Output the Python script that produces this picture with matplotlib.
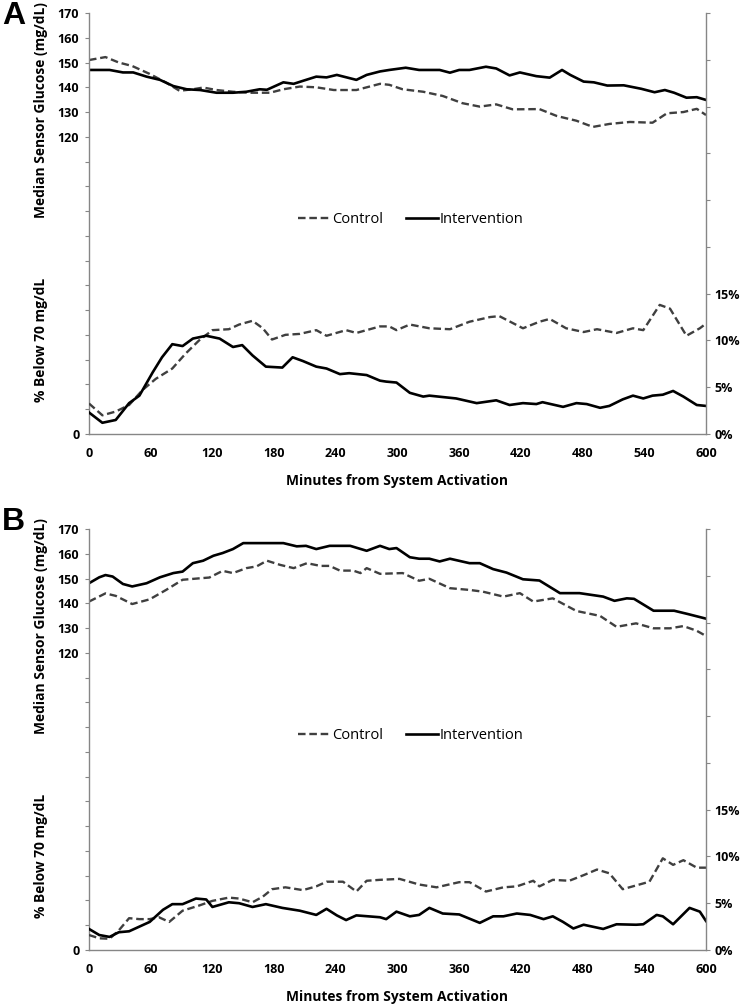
import matplotlib
matplotlib.use('Agg')
import matplotlib.pyplot as plt
from matplotlib.ticker import FixedLocator, FuncFormatter

plt.rcParams['font.family'] = ['Open Sans', 'DejaVu Sans']

# Panel A - median sensor glucose
a_ctrl_glu_min = [0, 16, 29, 42, 59, 75, 88, 101, 111, 124, 140, 156, 176, 189, 205, 221, 238, 260, 283,
                  292, 305, 325, 344, 363, 380, 396, 412, 438, 455, 474, 490, 506, 526, 548, 562, 578, 591, 600]
a_ctrl_glu = [151, 152.2, 150, 148.6, 145.4, 141.9, 138.6, 139.2, 139.9, 138.9, 138.2, 137.8, 137.8, 139.2, 140.3,
              140, 138.9, 138.9, 141.4, 141, 139.2, 138.2, 136.5, 133.6, 132.2, 133.1, 131.1, 131.2, 128.4, 126.5,
              124, 125.2, 126, 125.7, 129.5, 130, 131.3, 128.8]
a_int_glu_min = [0, 20, 33, 43, 56, 69, 82, 95, 108, 124, 140, 153, 166, 173, 189, 199, 208, 221, 231, 241, 260,
                 270, 283, 292, 308, 321, 341, 351, 360, 370, 386, 396, 409, 419, 435, 448, 460, 468, 481, 491, 504,
                 520, 537, 550, 560, 569, 581, 591, 600]
a_int_glu = [147, 147, 146, 146, 144.3, 143, 140.5, 139.2, 138.9, 137.8, 137.8, 138.2, 139.2, 139, 142, 141.4,
             142.6, 144.3, 144, 145, 143, 145, 146.4, 147, 147.9, 147, 147, 145.9, 147, 147, 148.3, 147.6, 144.8,
             146, 144.5, 143.9, 147, 145, 142.3, 142, 140.7, 140.8, 139.4, 138, 138.9, 137.8, 135.8, 136, 134.9]

# Panel A - % below 70 mg/dL
a_ctrl_pct_min = [0, 13, 26, 39, 52, 65, 81, 94, 107, 120, 136, 146, 159, 169, 178, 191, 205, 221, 231, 250, 260,
                  283, 292, 299, 312, 331, 351, 370, 390, 399, 422, 438, 448, 464, 481, 494, 513, 529, 539, 555,
                  565, 581, 594, 600]
a_ctrl_pct = [3.26, 2.0, 2.4, 3.1, 4.7, 5.9, 7.0, 8.6, 10.0, 11.1, 11.2, 11.7, 12.1, 11.3, 10.1, 10.6, 10.7, 11.1,
              10.5, 11.1, 10.8, 11.5, 11.5, 11.1, 11.7, 11.3, 11.2, 12.0, 12.5, 12.6, 11.3, 12.0, 12.3, 11.3, 10.9,
              11.2, 10.8, 11.3, 11.1, 13.8, 13.4, 10.5, 11.3, 11.8]
a_int_pct_min = [0, 13, 26, 39, 49, 62, 71, 81, 91, 101, 114, 127, 140, 149, 159, 172, 188, 198, 208, 221, 231,
                 244, 253, 270, 283, 289, 299, 312, 325, 331, 357, 377, 396, 409, 422, 435, 441, 461, 474, 484, 497,
                 506, 519, 529, 539, 548, 558, 568, 578, 591, 600]
a_int_pct = [2.3, 1.2, 1.5, 3.3, 4.1, 6.6, 8.2, 9.6, 9.4, 10.2, 10.5, 10.2, 9.3, 9.5, 8.4, 7.2, 7.1, 8.2, 7.8, 7.2,
             7.0, 6.4, 6.5, 6.3, 5.7, 5.6, 5.5, 4.4, 4.0, 4.1, 3.8, 3.3, 3.6, 3.1, 3.3, 3.2, 3.4, 2.9, 3.3, 3.2,
             2.8, 3.0, 3.7, 4.1, 3.8, 4.1, 4.2, 4.6, 4.0, 3.1, 3.0]

# Panel B - median sensor glucose
b_ctrl_glu_min = [0, 16, 26, 42, 59, 75, 91, 108, 117, 130, 140, 153, 163, 173, 186, 199, 212, 225, 234, 244, 257,
                  264, 270, 283, 305, 321, 331, 351, 370, 383, 403, 419, 432, 451, 474, 497, 513, 532, 549, 565,
                  578, 591, 600]
b_ctrl_glu = [140.7, 144, 143, 139.7, 141.6, 145.4, 149.5, 150.1, 150.4, 153.1, 152.2, 154.2, 154.9, 157.2, 155.5,
              154.2, 156.2, 155.1, 155.1, 153.2, 153.2, 152.2, 154.2, 151.9, 152.2, 149.1, 149.9, 146.1, 145.4,
              144.7, 142.7, 144.1, 140.7, 142, 136.9, 134.9, 130.5, 131.9, 129.9, 129.9, 130.8, 128.9, 126.8]
b_int_glu_min = [0, 10, 16, 23, 33, 42, 56, 69, 82, 91, 101, 111, 121, 130, 140, 150, 166, 189, 202, 211, 221, 234,
                 254, 270, 283, 292, 299, 312, 321, 331, 341, 351, 370, 380, 393, 406, 422, 438, 458, 477, 500, 511,
                 523, 530, 549, 569, 582, 600]
b_int_glu = [148.1, 150.5, 151.4, 150.8, 147.8, 146.8, 148.1, 150.5, 152.2, 152.8, 156.2, 157.2, 159.2, 160.3,
             161.9, 164.3, 164.3, 164.3, 163, 163.2, 161.9, 163.2, 163.2, 161.2, 163.2, 161.9, 162.3, 158.6, 158,
             158, 156.9, 158, 156.2, 156.2, 153.8, 152.4, 149.7, 149.2, 144.1, 144.1, 142.7, 141, 142, 141.8, 137,
             137, 135.7, 133.8]

# Panel B - % below 70 mg/dL
b_ctrl_pct_min = [0, 10, 20, 29, 39, 49, 59, 68, 78, 91, 107, 120, 136, 146, 159, 169, 178, 191, 208, 221, 231,
                  247, 260, 270, 283, 302, 321, 338, 360, 370, 386, 403, 416, 432, 438, 451, 467, 481, 494, 506,
                  519, 532, 545, 558, 568, 578, 591, 600]
b_ctrl_pct = [1.6, 1.25, 1.2, 2.1, 3.4, 3.3, 3.3, 3.5, 3.0, 4.2, 4.75, 5.25, 5.6, 5.5, 5.1, 5.7, 6.5, 6.7, 6.4,
              6.8, 7.3, 7.3, 6.25, 7.4, 7.5, 7.6, 7.0, 6.7, 7.25, 7.25, 6.25, 6.7, 6.8, 7.4, 6.8, 7.5, 7.4, 8.0,
              8.6, 8.2, 6.5, 6.9, 7.3, 9.8, 9.1, 9.6, 8.8, 8.8]
b_int_pct_min = [0, 10, 20, 29, 39, 49, 59, 72, 81, 91, 104, 114, 120, 136, 146, 159, 172, 188, 205, 221, 231, 241,
                 250, 260, 283, 289, 299, 312, 321, 331, 344, 360, 380, 393, 403, 416, 429, 442, 451, 461, 471, 481,
                 500, 513, 532, 539, 552, 558, 568, 584, 594, 600]
b_int_pct = [2.25, 1.6, 1.4, 1.9, 2.0, 2.5, 3.0, 4.3, 4.9, 4.9, 5.5, 5.4, 4.6, 5.1, 5.0, 4.6, 4.9, 4.5, 4.2, 3.75,
             4.4, 3.7, 3.2, 3.7, 3.5, 3.3, 4.1, 3.6, 3.75, 4.5, 3.9, 3.8, 2.9, 3.6, 3.6, 3.9, 3.75, 3.3, 3.6, 3.0,
             2.3, 2.7, 2.25, 2.75, 2.7, 2.75, 3.75, 3.6, 2.75, 4.5, 4.1, 3.1]

x_ticks = list(range(0, 601, 60))
glu_ticks = list(range(0, 171, 10))
glu_labeled = [0, 120, 130, 140, 150, 160, 170]
pct_ticks = [i * 5 for i in range(10)]
pct_labeled = [0, 5, 10, 15]

axis_grey = '#868686'
ctrl_color = '#3f3f3f'


def draw_panel(rect, letter, letter_y, data):
    (cg_m, cg, ig_m, ig, cp_m, cp, ip_m, ip) = data
    ax = fig.add_axes(rect)
    ax2 = ax.twinx()

    l1, = ax.plot(cg_m, cg, color=ctrl_color, lw=1.7, dashes=(3.2, 1.6), label='Control')
    l2, = ax.plot(ig_m, ig, color='black', lw=1.9, label='Intervention')
    ax2.plot(cp_m, cp, color=ctrl_color, lw=1.7, dashes=(3.2, 1.6))
    ax2.plot(ip_m, ip, color='black', lw=1.9)

    ax.set_xlim(0, 600)
    ax.set_ylim(0, 170)
    ax2.set_ylim(0, 45)

    ax.xaxis.set_major_locator(FixedLocator(x_ticks))
    ax.yaxis.set_major_locator(FixedLocator(glu_ticks))
    ax.yaxis.set_major_formatter(FuncFormatter(lambda v, p: '%d' % v if int(round(v)) in glu_labeled else ''))
    ax2.yaxis.set_major_locator(FixedLocator(pct_ticks))
    ax2.yaxis.set_major_formatter(FuncFormatter(lambda v, p: '%d%%' % v if int(round(v)) in pct_labeled else ''))

    for a in (ax, ax2):
        a.spines['top'].set_visible(False)
        for s in ('left', 'right', 'bottom'):
            a.spines[s].set_color(axis_grey)
            a.spines[s].set_linewidth(1.0)
    ax.spines['right'].set_visible(False)
    ax2.spines['left'].set_visible(False)
    ax2.spines['bottom'].set_visible(False)

    ax.tick_params(axis='x', length=0, pad=9.5, labelsize=9)
    ax.tick_params(axis='y', length=3, color=axis_grey, pad=4, labelsize=9)
    ax2.tick_params(axis='y', length=3, color=axis_grey, pad=3, labelsize=9)
    for lab in ax.get_xticklabels() + ax.get_yticklabels() + ax2.get_yticklabels():
        lab.set_fontweight('bold')

    ax.text(-0.077, 0.77, 'Median Sensor Glucose (mg/dL)', transform=ax.transAxes, rotation=90,
            ha='center', va='center', fontsize=9.9, fontweight='bold')
    ax.text(-0.077, 0.223, '% Below 70 mg/dL', transform=ax.transAxes, rotation=90,
            ha='center', va='center', fontsize=9.9, fontweight='bold')
    ax.text(0.50, -0.112, 'Minutes from System Activation', transform=ax.transAxes,
            ha='center', va='center', fontsize=9.9, fontweight='bold')

    ax.legend(handles=[l1, l2], loc='center', bbox_to_anchor=(0.522, 0.51), ncol=2, frameon=False,
              fontsize=10.5, handlelength=2.2, handletextpad=0.1, columnspacing=1.6)

    fig.text(0.003, letter_y, letter, family='Liberation Sans', fontsize=23, fontweight='bold',
             ha='left', va='top')


fig = plt.figure(figsize=(7.45, 10.07), dpi=100)

draw_panel([89 / 745, 1 - 434 / 1007, 617 / 745, 421 / 1007], 'A', 1 - 1 / 1007,
           (a_ctrl_glu_min, a_ctrl_glu, a_int_glu_min, a_int_glu,
            a_ctrl_pct_min, a_ctrl_pct, a_int_pct_min, a_int_pct))
draw_panel([89 / 745, 1 - 950 / 1007, 617 / 745, 421 / 1007], 'B', 1 - 507 / 1007,
           (b_ctrl_glu_min, b_ctrl_glu, b_int_glu_min, b_int_glu,
            b_ctrl_pct_min, b_ctrl_pct, b_int_pct_min, b_int_pct))

fig.savefig('out.png', dpi=100)
